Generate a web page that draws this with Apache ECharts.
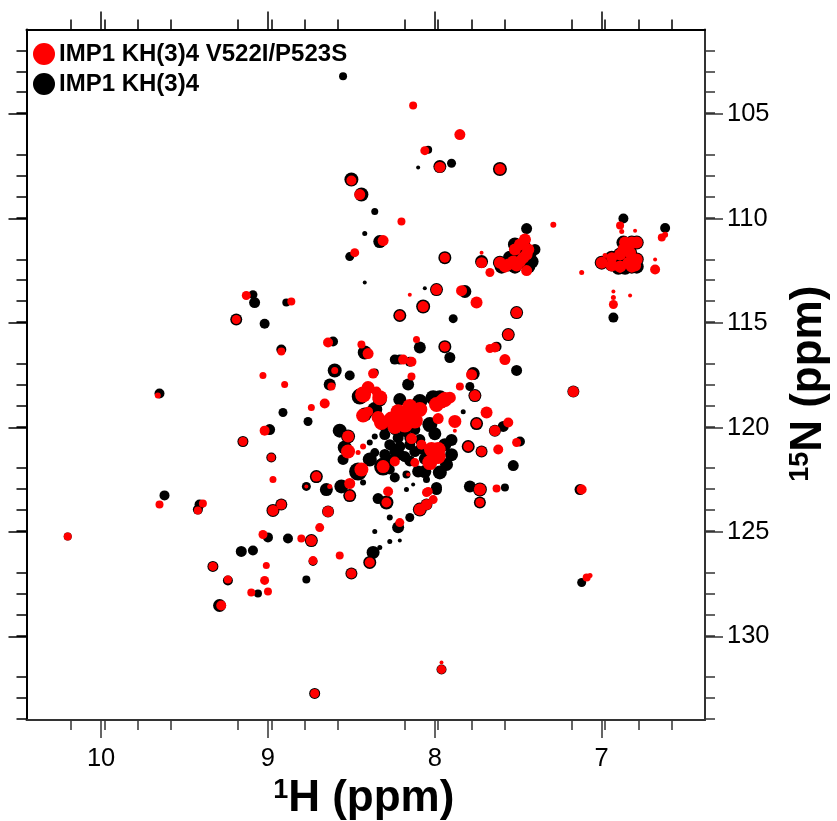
<!DOCTYPE html>
<html>
<head>
<meta charset="utf-8">
<title>IMP1 KH(3)4 HSQC</title>
<script src="https://cdn.jsdelivr.net/npm/echarts@6/dist/echarts.min.js"></script>
<style>
html, body { margin: 0; padding: 0; background: #fff; }
#main { width: 837px; height: 821px; }
</style>
</head>
<body>
<div id="main"></div>
<script>
var seriesNames = ['IMP1 KH(3)4 V522I/P523S', 'IMP1 KH(3)4'];
var hTicks = [7, 8, 9, 10];
var nTicks = [105, 110, 115, 120, 125, 130];

// peaks: [1H ppm, 15N ppm, relative intensity]
var wildTypePeaks = [
	[8.55,103.19,5],[8.50,108.13,11],[8.44,108.85,11],[8.36,109.66,4],[8.42,110.72,2],[8.33,111.10,10],
	[8.51,111.82,6],[8.42,113.06,1],[8.10,107.56,1],[8.04,106.70,5],[7.90,107.35,6],[7.97,107.51,10],
	[7.61,107.63,11],[7.45,110.48,8],[6.87,110.00,7],[6.62,110.45,7],[7.72,112.06,10],[7.94,111.87,10],
	[7.99,113.40,10],[7.82,113.49,10],[8.06,113.34,1],
	[7.47,111.24,11],[7.43,111.63,11],[7.52,111.24,11],[7.61,112.11,11],[7.56,112.20,11],[7.51,112.11,11],
	[7.46,111.87,11],[7.42,112.06,11],[7.60,112.30,11],[7.52,112.30,11],[7.44,112.30,11],
	[7.55,111.87,11],[7.49,111.58,11],[7.40,111.48,8],
	[6.82,111.15,11],[6.79,111.15,11],[6.87,111.15,11],[6.83,111.63,11],[6.79,111.96,11],[7.00,112.11,11],
	[6.94,112.20,11],[6.89,112.30,11],[6.84,112.11,11],[6.79,112.30,11],[6.90,112.35,11],[6.82,112.30,11],
	[6.94,111.87,11],[6.89,111.72,11],[6.86,112.35,11],
	[6.93,114.74,7],[7.51,114.50,10],[7.56,115.55,10],[7.63,116.13,7],[7.51,117.27,8],[7.17,118.28,9],
	[7.94,116.13,10],[7.91,116.65,8],[7.89,114.79,6],[7.77,117.42,10],[7.79,118.04,6],[7.76,118.47,10],
	[7.96,118.76,10],[7.83,119.24,2],[7.75,119.81,10],[7.64,120.15,9],[7.59,119.95,8],[7.49,120.67,7],
	[7.72,121.15,9],[7.80,120.91,10],[7.53,121.82,8],[7.79,122.82,9],[7.58,122.87,5],[7.99,122.97,8],
	[8.13,122.73,1],[8.17,122.97,2],[8.05,122.49,4],[8.16,117.94,9],[8.07,114.21,11],[8.21,114.64,10],
	[8.09,116.17,9],[8.61,115.88,7],[8.42,116.41,11],[8.60,117.27,11],[8.51,117.51,7],[8.63,117.94,9],
	[8.36,117.37,5],[8.24,116.75,7],[8.15,116.85,7],[8.21,116.75,7],[8.45,118.52,13],[8.33,118.66,11],
	[8.42,119.38,11],[8.91,119.28,6],[8.76,119.71,6],[8.57,120.15,11],[8.52,120.43,11],[8.54,120.96,11],
	[8.55,121.53,8],[8.36,120.43,3],[8.39,120.72,3],[8.39,121.53,11],[8.36,121.20,6],[8.31,121.87,15],
	[8.46,122.11,15],[8.17,122.25,5],[8.71,122.35,10],[8.77,122.82,6],[8.65,122.97,10],[8.56,122.82,11],
	[8.51,123.26,10],[8.43,122.63,3],[8.64,124.02,9],[8.92,123.69,9],[8.97,123.97,10],[8.34,123.40,8],
	[8.29,123.59,11],[7.99,122.87,8],[8.09,123.93,11],[8.05,123.69,9],[8.22,124.78,9],[8.15,124.31,6],
	[8.27,124.31,3],[8.36,124.98,2],[8.27,125.46,2],[8.21,125.41,1],[8.37,125.98,10],[8.33,125.74,2],
	[8.39,126.46,10],[8.88,125.31,7],[8.74,125.41,10],[9.00,125.26,7],[9.16,125.93,8],[9.09,125.89,7],
	[9.33,126.65,8],[9.24,127.32,7],[9.06,127.95,5],[9.29,128.52,10],[8.73,126.41,6],[8.77,127.27,5],
	[8.50,126.99,9],[9.62,123.25,7],[9.42,123.93,7],[9.41,123.69,7],[9.65,118.37,7],[10.20,125.22,5],
	[9.09,113.64,6],[9.08,114.02,8],[8.89,114.02,5],[9.19,114.83,9],[9.02,115.03,7],[8.92,116.27,7],
	[8.99,120.10,8],[9.15,120.67,8],[8.98,121.44,7],[8.71,122.39,8],[7.13,122.97,8],[7.12,127.42,6],
	[7.96,131.58,7],[8.72,132.73,8],[7.73,122.97,11],[7.73,123.59,9],
	// crowded middle of the spectrum
	[8.30,120.34,8],[8.24,120.10,8],[8.18,120.19,8],[8.12,120.10,8],[8.27,120.82,8],[8.21,120.91,8],
	[8.15,120.82,8],[8.09,120.58,8],[8.30,121.29,8],[8.24,121.15,8],[8.18,121.39,8],[8.12,121.15,8],
	[8.27,122.01,7],[8.24,122.39,7],[8.10,122.11,9],[8.06,122.11,10],[7.97,122.15,11],[7.93,121.77,10],
	[7.94,120.82,10],[8.09,118.76,12],[8.21,118.66,10],[8.01,118.57,12],[7.97,118.57,12],[8.36,119.14,12],
	[8.03,119.86,12],[8.30,119.90,10],[8.22,120.50,8],[8.15,120.50,8],[8.21,121.30,8],[8.27,121.55,8],
	[8.15,121.60,8],[8.08,121.00,9],[8.06,121.50,9],[7.90,120.60,9],[7.90,121.30,10],[8.00,120.30,10]
];
var mutantPeaks = [
	[8.50,108.18,7],[8.45,108.85,8],[8.31,111.05,8],[8.48,111.63,6],[8.20,110.14,5],[8.13,104.59,5],
	[8.15,113.64,1],[9.13,113.68,6],[8.86,113.97,5],[7.85,105.98,8],[8.06,106.75,6],[7.97,107.54,8],
	[7.61,107.63,8],[7.29,110.29,3],[6.89,110.33,5],[6.88,110.62,2],[6.64,110.91,5],[6.62,110.77,3],
	[6.80,110.58,1],[7.72,111.63,1],[7.72,112.11,8],[7.94,111.87,7],[7.67,112.58,6],[7.12,112.58,2],
	[6.68,112.44,7],[6.68,111.96,1],[6.93,114.11,6],[6.93,113.78,2],[6.93,113.49,1],[6.83,113.68,1],
	[7.99,113.40,8],[7.84,113.45,8],[7.75,114.02,9],[7.51,114.50,8],[7.56,115.55,8],[7.64,116.17,7],
	[7.67,116.22,6],[7.58,116.75,8],[7.17,118.28,8],[7.94,116.13,7],[7.78,117.47,8],[7.85,118.04,5],
	[7.76,118.47,8],[7.96,118.76,11],[7.69,119.28,9],[7.75,119.81,7],[7.64,120.15,8],[7.56,119.76,7],
	[7.51,120.72,6],[7.62,121.05,7],[7.72,121.15,7],[7.80,120.91,7],[7.73,122.97,9],[7.63,122.92,5],
	[8.04,123.06,6],[7.88,119.71,10],[7.88,120.15,1],[7.98,119.57,8],[7.99,118.90,12],[7.94,118.66,12],
	[7.91,118.57,9],
	// the big merged blob around 8.2 / 119.5
	[8.32,119.76,12],[8.26,119.62,13],[8.20,119.48,14],[8.14,119.33,14],[8.09,119.14,12],[8.24,119.95,12],
	[8.18,119.86,13],[8.12,119.67,13],[8.22,119.24,12],[8.15,119.00,12],
	[8.33,118.57,12],[8.43,118.42,13],[8.40,118.09,10],[8.35,118.28,7],[8.43,119.43,11],[8.40,119.24,7],
	[8.34,119.52,10],[8.14,120.53,8],[8.08,120.82,7],
	[8.02,121.05,12],[7.98,121.05,12],[8.00,121.39,12],[7.98,121.39,12],[8.03,121.68,12],
	[8.12,121.68,6],[8.16,122.25,1],[8.24,121.63,7],[8.31,121.87,10],[8.14,117.56,5],[8.11,115.79,4],
	[8.64,115.93,7],[8.44,116.03,5],[8.40,116.46,8],[8.60,117.27,4],[8.62,118.04,5],[8.90,117.94,4],
	[8.37,117.42,7],[8.19,116.75,7],[8.14,116.85,7],[8.07,114.21,8],[8.21,114.64,7],[8.66,118.85,7],
	[8.74,119.04,4],[8.52,120.43,9],[8.52,121.15,11],[8.43,120.91,3],[8.46,121.20,2],[8.44,122.01,11],
	[8.71,122.35,7],[8.63,122.82,2],[8.51,122.68,8],[8.51,123.26,7],[8.64,124.02,8],[8.77,122.82,1],
	[8.92,123.69,7],[8.97,123.97,8],[8.69,124.79,6],[8.80,125.31,5],[8.74,125.41,8],[8.57,126.13,5],
	[8.73,126.37,6],[8.50,126.99,7],[8.39,126.46,7],[9.03,125.12,6],[9.01,126.60,4],[9.02,127.32,6],
	[9.10,127.90,5],[9.00,127.85,5],[9.24,127.27,5],[9.33,126.65,6],[9.28,128.52,7],[9.39,123.64,5],
	[9.42,123.97,5],[9.65,123.69,5],[9.66,118.47,3],[10.20,125.22,5],[9.02,120.15,7],[9.15,120.67,6],
	[8.98,121.44,5],[8.97,122.49,4],[9.03,117.51,4],[8.92,116.36,5],[9.19,114.83,6],
	[8.28,123.06,7],[8.29,123.59,7],[8.21,124.55,6],[8.09,123.93,9],[8.05,123.69,8],[8.01,123.45,6],
	[8.05,123.11,6],[7.73,123.59,6],[7.12,122.97,7],[7.09,127.18,5],[7.07,127.08,2],[7.96,131.58,6],
	[7.96,131.25,1],[8.72,132.73,6],
	[7.46,111.00,9],[7.49,111.24,9],[7.44,111.48,9],[7.52,111.48,9],[7.47,111.87,9],[7.61,112.11,9],
	[7.56,112.20,9],[7.51,112.25,9],[7.45,112.49,8],[7.58,112.30,9],[7.53,112.06,9],[7.49,112.06,9],[7.45,111.72,9],
	[6.82,111.15,9],[6.79,111.15,9],[6.86,111.15,9],[6.83,111.63,9],[6.79,111.96,9],[7.00,112.11,9],
	[6.94,112.25,9],[6.89,112.30,9],[6.84,112.11,9],[6.80,112.25,9],[6.89,112.30,9],[6.82,112.30,9],
	[6.87,111.48,9],[6.98,111.77,2],[6.94,111.87,8],[6.89,111.72,9]
];

var FONT = '"Liberation Sans", Arial, sans-serif';

function peakSize(v) {
	return v[2] + 3;
}

// shared look of one frame side
function frameAxis(side, ticks, splitNumber, lo, hi, labelled, color) {
	return {
		type: 'value',
		position: side,
		inverse: true,
		min: lo,
		max: hi,
		interval: ticks[1] - ticks[0],
		splitLine: { show: false },
		axisLine: { show: true, onZero: false, lineStyle: { color: color, width: 2 } },
		axisTick: { show: true, length: 18, customValues: ticks, lineStyle: { color: color, width: 1.5 } },
		minorTick: { show: true, splitNumber: splitNumber, length: 10, lineStyle: { color: color, width: 1.5 } },
		axisLabel: { show: labelled, customValues: ticks, color: '#000', fontFamily: FONT, fontSize: 25.5 }
	};
}

function titleRich() {
	return {
		s: { fontFamily: FONT, fontWeight: 'bold', fontSize: 27, color: '#000', verticalAlign: 'top', lineHeight: 44 },
		t: { fontFamily: FONT, fontWeight: 'bold', fontSize: 44, color: '#000', lineHeight: 44 }
	};
}

var myChart = echarts.init(document.getElementById('main'));

var bottomAxis = frameAxis('bottom', hTicks, 5, 6.381, 10.447, true, '#333');
bottomAxis.axisLabel.margin = 26;
bottomAxis.nameLocation = 'middle';
bottomAxis.name = '{s|1}{t|H (ppm)}';
bottomAxis.nameGap = 54;
bottomAxis.nameTextStyle = { padding: [0, 4, 0, 0], rich: titleRich() };

var rightAxis = frameAxis('right', nTicks, 5, 100.95, 134, true, '#333');
rightAxis.axisLabel.margin = 22;
rightAxis.nameLocation = 'middle';
rightAxis.name = '{s|15}{t|N (ppm)}';
rightAxis.nameGap = 82;
rightAxis.nameRotate = 90;
rightAxis.nameTextStyle = { padding: [0, 18, 0, 0], rich: titleRich() };

myChart.setOption({
	animation: false,
	grid: { left: 26.5, top: 29.5, width: 678.5, height: 690.5, outerBoundsMode: 'none' },
	legend: {
		data: seriesNames,
		orient: 'vertical',
		left: 28,
		top: 37,
		itemWidth: 22,
		itemHeight: 22,
		itemGap: 6,
		selectedMode: false,
		icon: 'circle',
		textStyle: { fontFamily: FONT, fontWeight: 'bold', fontSize: 24, color: '#000', padding: [0, 0, 0, -1] }
	},
	xAxis: [bottomAxis, frameAxis('top', hTicks, 5, 6.381, 10.447, false, '#000')],
	yAxis: [rightAxis, frameAxis('left', nTicks, 5, 100.95, 134, false, '#000')],
	series: [
		{
			name: seriesNames[1],
			type: 'scatter',
			symbol: 'circle',
			symbolSize: peakSize,
			silent: true,
			itemStyle: { color: '#000', opacity: 1 },
			data: wildTypePeaks
		},
		{
			name: seriesNames[0],
			type: 'scatter',
			symbol: 'circle',
			symbolSize: peakSize,
			silent: true,
			itemStyle: { color: '#ff0000', opacity: 1 },
			data: mutantPeaks
		}
	]
});
</script>
</body>
</html>
